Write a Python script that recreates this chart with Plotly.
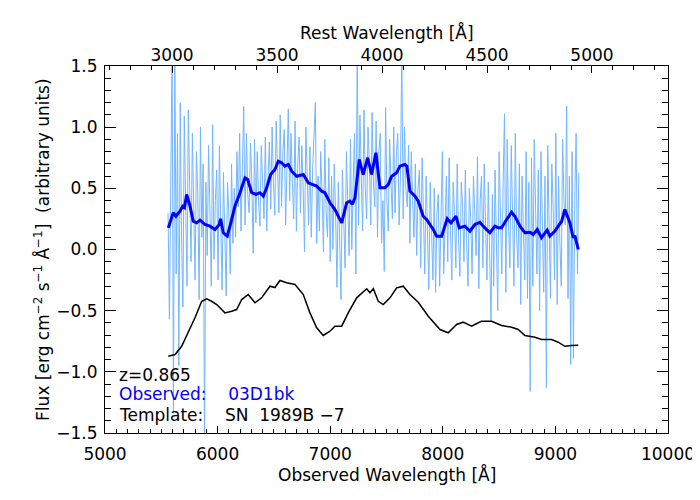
import numpy as np
import plotly.graph_objects as go

Z = 0.865

# Smoothed observed spectrum (blue)
smooth_wave = [5562, 5606, 5630, 5666, 5690, 5706, 5725, 5755, 5784, 5814, 5844, 5888, 5932, 5977,
               6015, 6027, 6050, 6086, 6110, 6154, 6199, 6243, 6267, 6303, 6341, 6376, 6406, 6436,
               6471, 6509, 6539, 6569, 6598, 6628, 6658, 6702, 6761, 6805, 6880, 6924, 6953, 6998,
               7042, 7071, 7102, 7146, 7175, 7196, 7220, 7258, 7293, 7333, 7368, 7406, 7442, 7486,
               7515, 7546, 7590, 7619, 7664, 7681, 7708, 7753, 7782, 7826, 7856, 7915, 7945, 7990,
               8039, 8072, 8117, 8146, 8196, 8241, 8285, 8330, 8359, 8418, 8463, 8492, 8522, 8567,
               8611, 8640, 8685, 8729, 8774, 8803, 8839, 8877, 8907, 8927, 8951, 8996, 9025, 9055,
               9084, 9129, 9158, 9173, 9203]
smooth_flux = [0.177, 0.300, 0.272, 0.313, 0.354, 0.343, 0.450, 0.354, 0.231, 0.218, 0.240, 0.204,
               0.191, 0.164, 0.204, 0.251, 0.137, 0.109, 0.191, 0.354, 0.464, 0.586, 0.572, 0.464,
               0.450, 0.464, 0.436, 0.504, 0.613, 0.654, 0.722, 0.709, 0.681, 0.695, 0.640, 0.599,
               0.613, 0.545, 0.518, 0.477, 0.464, 0.382, 0.327, 0.272, 0.218, 0.382, 0.395, 0.368,
               0.423, 0.736, 0.613, 0.750, 0.613, 0.791, 0.504, 0.504, 0.531, 0.599, 0.627, 0.681,
               0.695, 0.680, 0.477, 0.436, 0.395, 0.272, 0.245, 0.164, 0.109, 0.109, 0.251, 0.218,
               0.272, 0.177, 0.191, 0.150, 0.204, 0.223, 0.191, 0.137, 0.191, 0.177, 0.177, 0.245,
               0.305, 0.272, 0.191, 0.137, 0.141, 0.123, 0.164, 0.096, 0.137, 0.158, 0.109, 0.150,
               0.191, 0.229, 0.327, 0.218, 0.096, 0.114, 0.000]

# Template spectrum (black)
tmpl_wave = [5562, 5622, 5681, 5740, 5799, 5859, 5903, 5947, 5992, 6036, 6065, 6125, 6169, 6214,
             6272, 6332, 6391, 6465, 6509, 6554, 6613, 6687, 6761, 6820, 6880, 6938, 6998, 7042,
             7102, 7160, 7235, 7324, 7353, 7383, 7427, 7471, 7531, 7590, 7649, 7708, 7782, 7871,
             7975, 8048, 8123, 8181, 8256, 8315, 8345, 8434, 8522, 8611, 8670, 8729, 8818, 8877,
             8966, 9025, 9084, 9143, 9203]
tmpl_flux = [-0.872, -0.859, -0.791, -0.681, -0.558, -0.423, -0.403, -0.423, -0.450, -0.491, -0.518,
             -0.504, -0.491, -0.409, -0.368, -0.436, -0.395, -0.300, -0.311, -0.253, -0.272, -0.286,
             -0.368, -0.518, -0.640, -0.703, -0.668, -0.627, -0.627, -0.518, -0.395, -0.321, -0.354,
             -0.321, -0.423, -0.450, -0.395, -0.313, -0.300, -0.368, -0.431, -0.545, -0.654, -0.681,
             -0.613, -0.594, -0.627, -0.599, -0.586, -0.586, -0.621, -0.635, -0.654, -0.703, -0.717,
             -0.736, -0.736, -0.758, -0.791, -0.785, -0.783]

# Raw observed spectrum (light blue), sampled every 12 A from 5560 A
raw_start = 5560
raw_step = 12
raw_flux = [
    0.30, -0.57, 0.55, 1.65, -1.34, 1.65, -0.20, 0.95, -0.95, 1.20,
    0.10, -0.47, 1.09, 0.35, -0.30, 1.14, 0.60, -0.10, 0.95, 0.20,
    -0.25, 0.80, 0.45, -0.41, 1.00, 0.10, 0.70, -1.65, 0.55, -0.05,
    0.85, 0.30, -0.30, 1.02, -0.08, 0.40, 0.65, -0.25, 0.85, 0.20,
    -0.33, 0.63, 0.05, -0.38, 0.55, 0.30, -0.20, 0.70, 0.05, 0.50,
    0.10, 0.80, 0.35, 0.95, 0.15, 0.60, 1.17, 0.20, 0.95, 0.45,
    0.30, 0.87, 0.55, -0.03, 0.90, 0.22, 0.80, 0.40, 0.19, 0.85,
    0.50, 0.25, 0.92, 0.15, 0.60, 0.88, 0.33, 1.00, 0.55, 0.28,
    1.05, 0.60, 0.30, 1.10, 0.35, 0.80, 0.98, 0.20, 0.70, 1.15,
    0.40, 0.95, 0.55, 0.25, 1.05, 0.15, 0.70, 0.92, 0.30, 0.85,
    0.50, -0.02, 1.00, 0.60, 0.20, 0.84, 0.10, 0.65, 0.95, 1.20,
    0.05, 0.60, 0.15, 0.80, 0.45, -0.02, 0.90, 0.30, 0.10, 0.75,
    -0.10, 0.60, 0.00, 0.70, 0.30, -0.31, 0.55, 0.10, -0.41, 0.65,
    0.25, -0.15, 0.80, 0.40, -0.05, 0.90, 0.00, 0.55, 0.95, -0.20,
    1.65, 0.20, 1.10, 0.60, 0.15, 1.14, 0.50, 0.25, 1.00, 0.70,
    0.20, 1.12, 0.55, 0.35, 1.05, 0.10, 0.80, 0.95, 0.05, 0.40,
    -0.18, 1.16, 0.40, 0.15, 0.90, 0.55, 0.25, 1.00, 0.30, 0.80,
    0.95, 0.20, 0.60, 1.65, 0.25, 1.00, 0.50, 0.35, 0.85, 0.05,
    0.80, 0.40, 0.10, 0.70, -0.05, 0.50, 0.65, -0.15, 0.75, 0.30,
    -0.20, 0.60, 0.20, -0.33, 0.55, 0.10, -0.25, 0.50, -0.35, 0.30,
    0.45, -0.30, 0.20, 0.80, -0.20, 0.35, 0.60, -0.10, 0.75, 0.15,
    -0.25, 0.55, 0.30, -0.15, 0.70, 0.10, -0.22, 0.55, 0.35, -0.10,
    0.65, 0.05, -0.30, 0.50, 0.25, -0.20, 0.60, 0.30, -0.05, 0.76,
    -0.32, 0.40, 0.60, -0.15, 0.70, 0.20, -0.25, 0.55, 0.05, -0.59,
    0.45, -0.30, 0.65, 0.10, -0.50, 0.80, 0.30, -0.20, 0.55, 1.11,
    -0.35, 0.90, 0.20, -0.15, 0.85, 0.40, -0.30, 0.95, 0.10, -0.15,
    0.70, -0.45, 0.60, 0.15, -0.25, 0.80, -0.40, 0.55, -1.16, 0.75,
    -0.30, 0.90, 0.20, -0.20, 0.65, -0.50, 0.80, 0.30, -0.35, 0.60,
    -1.13, 0.85, 0.10, -0.40, 0.70, 0.35, -0.25, 0.95, -0.45, 0.60,
    0.05, -0.30, 0.90, 0.40, 0.20, 1.17, -0.40, 0.60, -0.94, 0.80,
    -0.89, 0.40, 0.95, -0.20, 0.63,
]
raw_wave = raw_start + raw_step * np.arange(len(raw_flux))

x_ticks = [5000, 6000, 7000, 8000, 9000, 10000]
x_ticktext = ["5000", "6000", "7000", "8000", "9000", "10000"]
rest_ticks = [3000, 3500, 4000, 4500, 5000]
rest_ticktext = ["3000", "3500", "4000", "4500", "5000"]
y_ticks = [-1.5, -1.0, -0.5, 0.0, 0.5, 1.0, 1.5]

obs_range = [5000, 10000]
y_range = [-1.5, 1.5]

FONT = "DejaVu Sans"
FS = 17
SP = "\u00a0"

fig = go.Figure()
fig.add_trace(go.Scatter(x=raw_wave, y=raw_flux, mode="lines",
                         line=dict(color="rgb(115,182,255)", width=1), showlegend=False))
fig.add_trace(go.Scatter(x=smooth_wave, y=smooth_flux, mode="lines",
                         line=dict(color="#0000ff", width=3), showlegend=False))
fig.add_trace(go.Scatter(x=tmpl_wave, y=tmpl_flux, mode="lines",
                         line=dict(color="black", width=1.5), showlegend=False))
fig.add_trace(go.Scatter(x=[], y=[], xaxis="x2", showlegend=False))

common = dict(ticks="inside", tickwidth=1, tickcolor="black", showline=True, linecolor="black",
              linewidth=1, showgrid=False, zeroline=False, automargin=False,
              tickfont=dict(family=FONT, size=FS, color="black"))

# page body adds an 8px offset; figure sized so that the plot box lands at 105..668 x 66..433
fig.update_layout(
    width=692, height=492,
    margin=dict(l=97, r=32, t=58, b=67),
    paper_bgcolor="white", plot_bgcolor="white",
    font=dict(family=FONT, size=FS, color="black"),
    xaxis=dict(range=obs_range, tickvals=x_ticks, ticktext=x_ticktext, ticklen=7, mirror=False,
               ticklabelstandoff=6,
               minor=dict(dtick=100, ticks="inside", ticklen=4, tickcolor="black", showgrid=False),
               **common),
    xaxis2=dict(range=[obs_range[0] / (1 + Z), obs_range[1] / (1 + Z)], overlaying="x", side="top",
                anchor="y", tickvals=rest_ticks, ticktext=rest_ticktext, ticklen=7,
                ticklabelstandoff=-3,
                minor=dict(dtick=100, ticks="inside", ticklen=4, tickcolor="black", showgrid=False),
                **common),
    yaxis=dict(range=y_range, tickvals=y_ticks, tickformat=".1f", ticklen=11,
               mirror="ticks", ticklabelstandoff=3,
               minor=dict(dtick=0.1, ticks="inside", ticklen=6, tickcolor="black", showgrid=False),
               **common),
)

fig.add_annotation(text="Observed Wavelength [Å]", xref="paper", yref="paper", x=0.5, y=-0.113,
                   xanchor="center", yanchor="middle", showarrow=False, font=dict(size=FS))
fig.add_annotation(text="Rest Wavelength [Å]", xref="paper", yref="paper", x=0.5, y=1.09,
                   xanchor="center", yanchor="middle", showarrow=False, font=dict(size=FS))
fig.add_annotation(text="Flux [erg cm<sup>−2</sup> s<sup>−1</sup> Å<sup>−1</sup>]" + SP * 2 + "(arbitrary units)",
                   textangle=-90, xref="paper", yref="paper", x=-0.113, y=0.5,
                   xanchor="center", yanchor="middle", showarrow=False, font=dict(size=FS))

labels = [
    ("z=0.865", "black", 0.158),
    ("Observed:" + SP * 4 + "03D1bk", "#0000ff", 0.106),
    ("Template:" + SP * 4 + "SN" + SP * 2 + "1989B" + SP + "−7", "black", 0.049),
]
for txt, col, yy in labels:
    fig.add_annotation(text=txt, xref="paper", yref="paper", x=0.022, y=yy,
                       xanchor="left", yanchor="middle", showarrow=False,
                       font=dict(size=FS, color=col))

fig.write_html("out.html")
